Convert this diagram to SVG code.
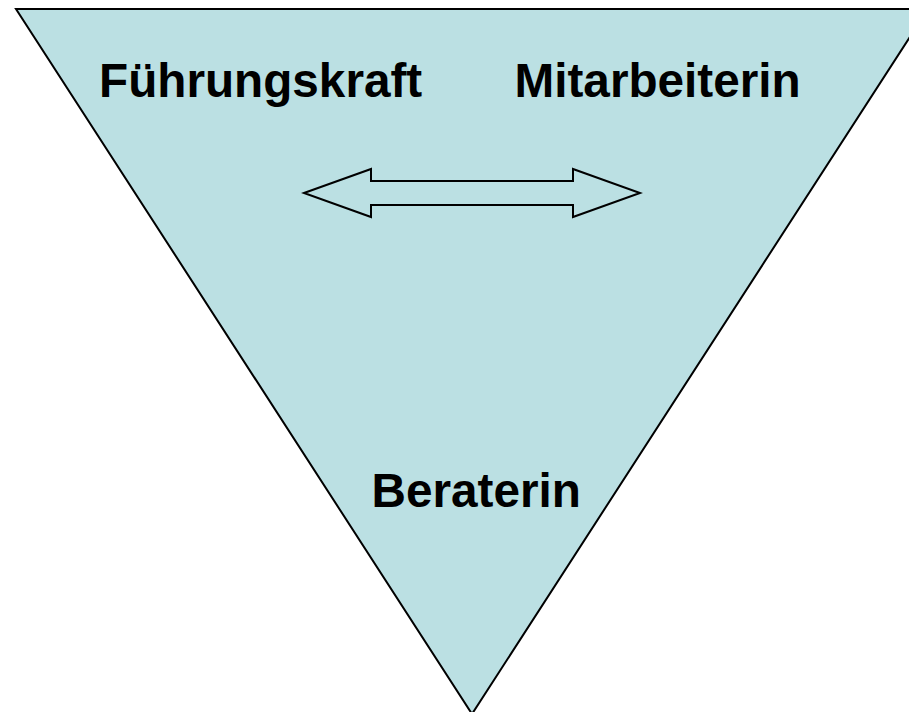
<svg xmlns="http://www.w3.org/2000/svg" width="909" height="712" viewBox="0 0 909 712">
<style>
.lbl{font-family:"Liberation Sans",Arial,sans-serif;font-weight:bold;font-size:47.7px;fill:#000}
.shape{fill:#BBE0E3;stroke:#000;stroke-width:2}
.arr{fill:none;stroke:#000;stroke-width:2;stroke-linejoin:miter}
</style>
<rect width="909" height="712" fill="#fff"/>
<g id="triangle">
<polygon class="shape" points="16,9 928,9 472,714"/>
</g>
<g id="fuehrungskraft"><text class="lbl" x="99" y="97">Führungskraft</text></g>
<g id="mitarbeiterin"><text class="lbl" x="514.5" y="97">Mitarbeiterin</text></g>
<g id="beraterin"><text class="lbl" x="371.5" y="507">Beraterin</text></g>
<g id="connectors">
<polygon class="arr" points="304,193 371,169 371,181 573,181 573,169 640,193 573,217 573,205 371,205 371,217"/>
</g>
</svg>
